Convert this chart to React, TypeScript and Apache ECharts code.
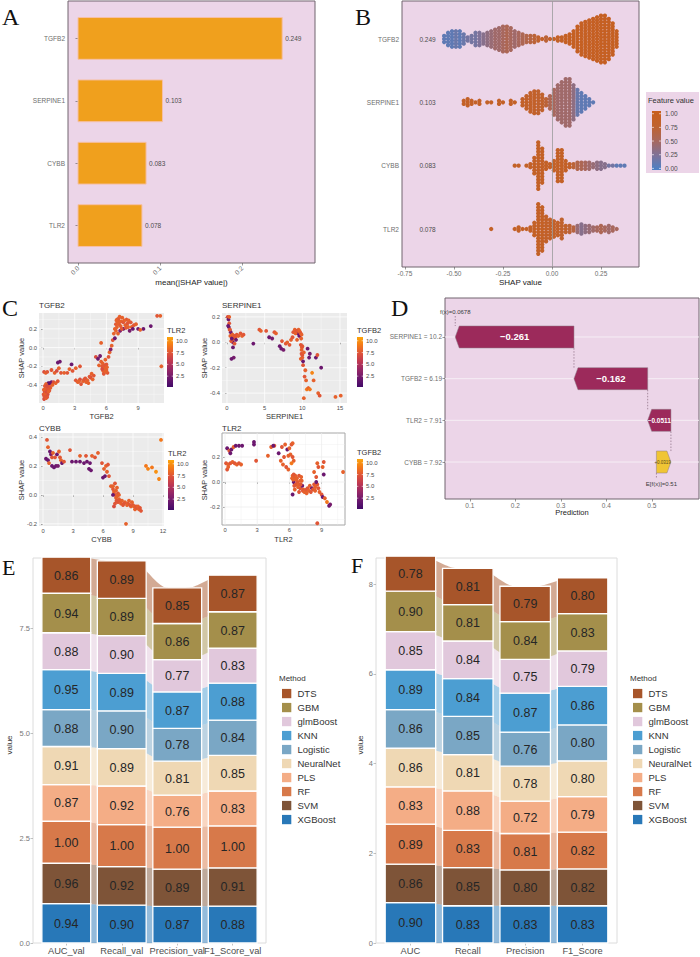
import React, { useEffect, useRef } from "react";
import * as echarts from "echarts";

const FONT = '"Liberation Sans", Arial, Helvetica, sans-serif';
const SERIF = '"Liberation Serif", "Times New Roman", serif';
const PINK = "#ecd5e8";

// ---------- A: mean(|SHAP value|) ----------
const featureRows = ["TLR2", "CYBB", "SERPINE1", "TGFB2"]; // bottom -> top
const meanAbsShap = [0.078, 0.083, 0.103, 0.249];
const meanAbsShapText = ["0.078", "0.083", "0.103", "0.249"];
const ticksA = [0, 0.1, 0.2];

// ---------- B: beeswarm, bins [shap, count, feature value] ----------
const swarmTGFB2 = [
  [-0.55, 3, 0.1], [-0.53, 5, 0.1], [-0.51, 6, 0.1], [-0.49, 6, 0.15], [-0.47, 6, 0.1], [-0.45, 4, 0.15],
  [-0.43, 2, 0.2], [-0.41, 3, 0.2], [-0.39, 5, 0.2], [-0.37, 5, 0.25], [-0.35, 4, 0.3], [-0.33, 5, 0.35],
  [-0.31, 6, 0.4], [-0.29, 7, 0.45], [-0.27, 8, 0.45], [-0.25, 9, 0.5], [-0.23, 9, 0.55], [-0.21, 8, 0.5],
  [-0.19, 6, 0.45], [-0.17, 5, 0.5], [-0.15, 4, 0.55], [-0.13, 3, 0.6], [-0.11, 3, 0.65], [-0.09, 3, 0.7],
  [-0.07, 2, 0.75], [-0.05, 1, 0.8], [-0.03, 2, 0.7], [-0.01, 1, 0.8], [0.01, 1, 0.85], [0.03, 2, 0.85],
  [0.05, 2, 0.85], [0.07, 3, 0.9], [0.09, 4, 0.9], [0.11, 6, 0.9], [0.13, 9, 0.9], [0.15, 11, 0.9],
  [0.17, 12, 0.9], [0.19, 13, 0.9], [0.21, 14, 0.9], [0.23, 15, 0.9], [0.25, 16, 0.9], [0.27, 16, 0.9],
  [0.29, 14, 0.9], [0.31, 11, 0.9], [0.33, 6, 0.9],
];
const swarmSERPINE1 = [
  [-0.45, 2, 0.85], [-0.43, 3, 0.85], [-0.41, 2, 0.85], [-0.39, 1, 0.85], [-0.37, 2, 0.85], [-0.33, 1, 0.85],
  [-0.31, 1, 0.85], [-0.27, 2, 0.85], [-0.25, 1, 0.85], [-0.21, 2, 0.85], [-0.19, 1, 0.85], [-0.15, 3, 0.8],
  [-0.13, 5, 0.8], [-0.11, 7, 0.8], [-0.09, 8, 0.8], [-0.07, 8, 0.75], [-0.05, 6, 0.75], [-0.03, 3, 0.7],
  [-0.01, 5, 0.55], [0.01, 9, 0.5], [0.03, 12, 0.45], [0.05, 14, 0.45], [0.07, 16, 0.45], [0.09, 16, 0.45],
  [0.11, 12, 0.35], [0.13, 9, 0.15], [0.15, 7, 0.1], [0.17, 5, 0.1], [0.19, 3, 0.1], [0.21, 1, 0.1],
];
const swarmCYBB = [
  [-0.19, 1, 0.85], [-0.17, 1, 0.85], [-0.13, 1, 0.85], [-0.11, 2, 0.85], [-0.09, 6, 0.85], [-0.07, 16, 0.85],
  [-0.05, 12, 0.85], [-0.03, 3, 0.85], [-0.01, 2, 0.85], [0.01, 4, 0.85], [0.03, 11, 0.85], [0.05, 11, 0.85],
  [0.07, 4, 0.85], [0.09, 2, 0.8], [0.11, 2, 0.7], [0.13, 3, 0.6], [0.15, 3, 0.55], [0.17, 3, 0.5],
  [0.19, 3, 0.45], [0.21, 2, 0.4], [0.23, 3, 0.35], [0.25, 3, 0.3], [0.27, 2, 0.3], [0.29, 1, 0.2],
  [0.31, 1, 0.2], [0.33, 1, 0.1], [0.35, 1, 0.1], [0.37, 1, 0.1],
];
const swarmTLR2 = [
  [-0.31, 1, 0.85], [-0.19, 1, 0.85], [-0.17, 2, 0.85], [-0.15, 1, 0.85], [-0.13, 1, 0.85], [-0.11, 2, 0.85],
  [-0.09, 5, 0.85], [-0.07, 17, 0.85], [-0.05, 15, 0.85], [-0.03, 9, 0.8], [-0.01, 7, 0.8], [0.01, 6, 0.8],
  [0.03, 5, 0.8], [0.05, 7, 0.75], [0.07, 3, 0.75], [0.09, 3, 0.7], [0.11, 2, 0.65], [0.13, 3, 0.4],
  [0.15, 4, 0.3], [0.17, 3, 0.35], [0.19, 3, 0.4], [0.21, 2, 0.45], [0.23, 2, 0.5], [0.25, 3, 0.55],
  [0.27, 2, 0.5], [0.29, 3, 0.45], [0.31, 2, 0.5], [0.33, 1, 0.5],
];
const swarmRowText = ["0.078", "0.083", "0.103", "0.249"];
const ticksB = [-0.75, -0.5, -0.25, 0, 0.25];
const featureValueTicks = [0, 0.25, 0.5, 0.75, 1];

// ---------- C: dependence plots [x, SHAP, colour variable] ----------
const depTGFB2 = [
  [0.1, -0.55, 7], [0.2, -0.52, 8], [0.3, -0.5, 7.5], [0.4, -0.48, 8], [0.15, -0.47, 6.5], [0.35, -0.45, 7],
  [0.5, -0.44, 8], [0.6, -0.46, 7.5], [0.25, -0.43, 8.5], [0.45, -0.5, 7], [0.55, -0.41, 7.5], [0.7, -0.43, 8],
  [0.05, -0.5, 7.5], [0.3, -0.54, 8], [0.2, -0.46, 7], [0.4, -0.53, 7.5], [0.5, -0.38, 1.5], [0.65, -0.38, 1.8],
  [0.12, -0.52, 7.5], [0.22, -0.49, 8], [0.32, -0.47, 7], [0.42, -0.44, 7.5], [0.52, -0.47, 8], [0.62, -0.42, 7.5],
  [0.08, -0.45, 8], [0.18, -0.41, 7.5], [0.28, -0.39, 8], [0.38, -0.41, 7],
  [0.8, -0.37, 2], [1.0, -0.37, 7], [1.2, -0.38, 8], [1.4, -0.36, 7.5], [0.9, -0.4, 8], [0.1, -0.26, 7],
  [0.25, -0.27, 8], [0.4, -0.26, 7.5], [0.8, -0.24, 7.5], [1.1, -0.27, 8], [1.3, -0.25, 7], [1.5, -0.22, 8],
  [1.4, -0.16, 2], [1.6, -0.15, 2.2], [2.7, -0.18, 2], [1.7, -0.27, 7.5], [2.0, -0.27, 8], [2.3, -0.27, 7.5],
  [2.5, -0.23, 8], [2.8, -0.25, 7.5], [3.1, -0.22, 8], [3.5, -0.2, 7.5], [3.1, -0.35, 7.5], [3.3, -0.37, 8],
  [3.5, -0.34, 7], [3.8, -0.36, 8], [4.0, -0.33, 7.5], [4.2, -0.35, 8], [4.5, -0.32, 7], [4.7, -0.34, 8],
  [4.8, -0.3, 7.5], [4.3, -0.38, 8], [3.6, -0.39, 7.5], [4.6, -0.28, 8], [3.4, -0.36, 8], [3.9, -0.34, 7.5],
  [4.1, -0.37, 8], [4.4, -0.31, 7.5], [5.0, -0.1, 7], [5.2, -0.12, 2],
  [5.4, -0.09, 2.5], [5.5, -0.15, 8], [5.6, -0.2, 7.5], [5.8, -0.22, 8], [6.0, -0.18, 7.5], [5.3, -0.19, 8],
  [5.7, -0.25, 8], [6.1, -0.27, 7.5], [5.9, -0.13, 8], [6.2, -0.1, 7.5], [5.5, 0.05, 8], [5.6, -0.23, 7],
  [6.0, -0.24, 8], [5.65, -0.17, 8], [5.85, -0.19, 7.5], [6.05, -0.21, 8], [5.75, -0.28, 7.5], [5.95, -0.26, 8],
  [6.3, -0.05, 8], [6.4, -0.02, 3], [6.5, 0.02, 8], [6.6, 0.08, 7.5], [6.7, 0.15, 8],
  [6.8, 0.2, 8], [6.9, 0.25, 7.5], [7.0, 0.3, 8], [6.8, 0.1, 2], [6.9, 0.18, 8], [7.0, 0.22, 8],
  [7.2, 0.25, 7.5], [7.4, 0.28, 8], [7.6, 0.2, 2], [7.8, 0.24, 8], [8.0, 0.26, 7.5], [8.2, 0.18, 2.5],
  [8.4, 0.22, 8], [8.6, 0.24, 7.5], [8.8, 0.25, 8], [7.1, 0.15, 8], [7.3, 0.18, 3], [7.5, 0.32, 8],
  [7.9, 0.3, 7.5], [8.5, 0.2, 2], [9.0, 0.2, 2.2], [9.5, 0.2, 2], [9.2, 0.19, 8], [7.2, 0.28, 8],
  [7.6, 0.27, 7.5], [8.1, 0.29, 8], [7.05, 0.26, 8], [7.15, 0.31, 7.5], [7.35, 0.23, 8], [7.45, 0.2, 7.5],
  [7.7, 0.29, 8], [7.85, 0.21, 7.5], [8.05, 0.22, 8], [8.3, 0.27, 7.5], [6.95, 0.29, 8], [7.25, 0.33, 8],
  [10.8, 0.34, 7.5], [11.1, 0.34, 8], [11.2, -0.2, 8], [10.2, 0.23, 2],
];
const depSERPINE1 = [
  [0.1, 0.2, 7], [0.2, 0.18, 2], [0.3, 0.15, 7.5], [0.25, 0.12, 2], [0.4, 0.1, 8], [0.5, 0.08, 2.5],
  [0.6, 0.05, 7.5], [0.3, 0.2, 8], [0.15, 0.13, 2], [0.7, 0.02, 7.5], [0.8, 0.0, 2], [0.9, 0.03, 8],
  [1.0, -0.01, 7.5], [1.1, 0.04, 8], [1.2, 0.02, 2], [1.3, 0.06, 7.5], [1.5, 0.05, 8], [0.8, -0.04, 2],
  [0.35, 0.1, 7.5], [0.45, 0.05, 8], [0.55, 0.01, 7.5], [0.65, 0.03, 2], [0.75, 0.06, 8], [1.0, 0.05, 7.5],
  [0.9, -0.12, 2.5], [0.6, -0.13, 2], [1.8, 0.07, 7.5], [2.0, 0.05, 8], [2.2, 0.06, 7.5], [3.5, -0.01, 2],
  [4.3, 0.1, 7.5], [4.5, 0.09, 8], [5.2, 0.09, 7.5], [5.6, 0.04, 2], [6.0, 0.03, 2.5], [6.3, 0.08, 7.5],
  [6.5, 0.07, 8], [7.0, -0.03, 2], [7.2, -0.05, 2], [7.5, -0.06, 2.5], [7.8, -0.01, 7.5], [8.0, 0.0, 8],
  [7.3, 0.01, 7.5], [8.3, -0.02, 7.5], [8.5, 0.02, 8], [8.7, 0.04, 7.5], [8.8, 0.08, 7.5], [9.0, 0.1, 8],
  [9.2, 0.09, 7.5], [9.4, 0.07, 2], [9.5, 0.1, 8], [9.7, 0.08, 7.5], [9.6, 0.05, 2], [9.3, 0.02, 8],
  [9.1, 0.07, 8], [9.3, 0.09, 7.5], [9.6, 0.09, 8], [9.8, 0.07, 7.5], [9.85, 0.03, 8], [9.9, -0.09, 7.5],
  [10.0, -0.12, 8], [10.1, -0.18, 7.5], [9.95, -0.04, 8],
  [9.8, -0.02, 7.5], [9.9, -0.06, 8], [10.0, -0.1, 7.5], [9.8, -0.13, 8], [10.1, -0.15, 2], [10.2, -0.08, 8],
  [10.4, -0.22, 8], [10.3, -0.27, 7.5], [10.5, -0.3, 8], [10.6, -0.37, 9], [10.8, -0.36, 8], [10.2, -0.44, 8],
  [11.0, -0.37, 9], [11.3, -0.24, 9.5], [11.5, -0.3, 8], [10.7, -0.05, 2], [11.0, -0.09, 2.5], [11.8, -0.12, 2],
  [12.0, -0.1, 7.5], [12.5, -0.2, 2], [12.1, -0.4, 8], [12.3, -0.42, 7.5], [14.4, -0.43, 8], [15.1, -0.42, 8],
  [10.9, -0.12, 2], [9.9, 0.06, 8], [10.0, -0.03, 7.5],
];
const depCYBB = [
  [0.4, 0.38, 7.5], [0.5, 0.33, 8], [0.7, 0.3, 2], [0.8, 0.28, 2.5], [0.9, 0.26, 7.5], [0.3, 0.25, 2],
  [0.5, 0.24, 2], [1.0, 0.29, 8], [1.2, 0.26, 7.5], [1.4, 0.28, 2], [1.6, 0.3, 8], [1.7, 0.26, 7.5],
  [1.8, 0.24, 8], [1.9, 0.22, 2], [2.1, 0.23, 7.5], [0.9, 0.2, 2], [1.1, 0.19, 2], [1.3, 0.2, 2],
  [1.5, 0.2, 2.5], [0.6, 0.22, 8], [2.9, 0.23, 2], [3.3, 0.23, 2], [3.7, 0.23, 2], [4.1, 0.22, 2],
  [4.4, 0.23, 2], [4.7, 0.22, 2], [2.7, 0.31, 7.5], [3.7, 0.27, 8], [4.3, 0.27, 7.5], [4.9, 0.27, 8],
  [5.2, 0.26, 7.5], [5.5, 0.29, 8], [4.6, 0.18, 2], [4.8, 0.17, 2], [5.9, 0.22, 7.5], [6.1, 0.18, 8],
  [6.3, 0.2, 8], [6.5, 0.21, 7.5], [6.0, 0.12, 2], [6.2, 0.13, 2], [6.6, 0.13, 7.5], [6.4, 0.16, 8],
  [6.8, 0.06, 8], [7.0, 0.04, 7.5], [7.1, 0.02, 8], [7.2, 0.0, 7.5], [7.3, -0.02, 8], [7.0, 0.0, 2],
  [7.4, 0.05, 8], [7.5, -0.05, 7.5], [7.6, -0.03, 8], [7.2, -0.06, 7.5], [7.1, -0.08, 7], [7.8, -0.06, 8],
  [8.0, -0.07, 7.5], [8.2, -0.05, 8], [8.5, -0.06, 7.5], [8.8, -0.08, 8], [9.0, -0.07, 7.5], [9.2, -0.1, 8],
  [9.4, -0.09, 7.5], [9.6, -0.1, 8], [9.8, -0.11, 7.5], [8.3, -0.2, 8], [10.3, 0.2, 9], [10.5, 0.18, 9.5],
  [7.3, 0.03, 8], [7.5, 0.01, 7.5], [7.6, 0.0, 8], [7.7, -0.04, 7.5], [7.9, -0.04, 8], [8.1, -0.06, 7.5],
  [8.4, -0.07, 8], [8.7, -0.07, 7.5], [9.1, -0.08, 8], [9.3, -0.08, 7.5], [9.5, -0.08, 8], [9.7, -0.09, 7.5],
  [8.9, -0.05, 8], [7.35, -0.04, 7.5], [7.0, 0.06, 8], [7.2, 0.08, 7.5],
  [10.9, 0.19, 9], [11.3, 0.16, 10], [11.6, 0.11, 9.5], [11.8, 0.38, 9], [7.4, -0.01, 8], [8.6, -0.04, 8],
];
const depTLR2 = [
  [0.1, 0.15, 7.5], [0.3, 0.14, 8], [0.5, 0.15, 7.5], [0.7, 0.16, 8], [0.9, 0.15, 7.5], [1.1, 0.14, 8],
  [1.3, 0.15, 7.5], [1.5, 0.14, 8], [0.2, 0.1, 7.5], [0.3, 0.12, 8], [0.2, 0.27, 2], [0.4, 0.25, 7.5],
  [0.5, 0.23, 2], [0.6, 0.26, 2], [0.8, 0.28, 8], [1.0, 0.29, 2], [1.3, 0.29, 2], [1.6, 0.29, 2],
  [2.7, 0.32, 2], [2.7, 0.3, 2], [2.9, 0.17, 7.5], [4.0, 0.21, 8], [4.3, 0.28, 8], [4.6, 0.29, 7.5],
  [4.5, 0.29, 2], [5.0, 0.23, 2], [5.3, 0.28, 7.5], [5.4, 0.14, 8], [5.6, 0.3, 8], [5.8, 0.26, 2],
  [5.9, 0.21, 8], [5.5, 0.2, 7.5], [5.2, 0.17, 8], [5.7, 0.12, 7.5], [5.9, 0.1, 8], [6.0, 0.27, 8],
  [6.2, 0.3, 7.5], [6.1, 0.22, 8], [6.3, 0.2, 7.5], [6.4, 0.17, 8], [6.2, 0.15, 9], [6.3, 0.31, 8],
  [6.3, 0.05, 8], [6.5, 0.04, 7.5], [6.7, 0.03, 8], [6.9, 0.05, 7.5], [7.1, 0.04, 8], [6.4, 0.0, 2],
  [6.6, -0.02, 7.5], [6.8, -0.04, 8], [7.0, -0.05, 7.5], [7.2, -0.03, 2], [6.5, -0.06, 8], [6.3, -0.1, 2],
  [6.9, -0.08, 7.5], [7.3, -0.06, 8], [7.5, -0.07, 8], [7.7, -0.05, 7.5], [7.9, -0.03, 8], [8.1, -0.05, 2],
  [6.35, 0.02, 8], [6.45, -0.03, 7.5], [6.55, 0.05, 8], [6.75, 0.0, 7.5], [6.85, -0.02, 8], [7.05, -0.02, 7.5],
  [7.15, 0.01, 8], [7.25, -0.07, 7.5], [7.4, -0.08, 8], [7.6, -0.06, 7.5], [7.8, -0.07, 8], [8.2, -0.06, 7.5],
  [8.4, -0.07, 8], [8.6, -0.02, 7.5], [6.25, 0.03, 8], [6.4, 0.06, 7.5],
  [8.3, -0.02, 7.5], [8.4, -0.04, 8], [8.0, -0.08, 7.5], [7.6, -0.09, 8], [8.5, 0.0, 2], [8.7, -0.05, 7.5],
  [8.8, -0.08, 8], [9.0, -0.1, 7.5], [9.1, -0.12, 2], [9.3, -0.13, 8], [9.5, -0.16, 9], [9.7, -0.19, 2],
  [9.8, -0.18, 2.5], [8.5, 0.04, 7.5], [8.3, 0.08, 8], [8.6, 0.15, 8], [8.7, 0.12, 7.5], [9.1, 0.12, 8],
  [9.2, 0.06, 2], [9.2, 0.16, 7.5], [11.0, 0.08, 8], [8.6, -0.33, 7.5], [6.6, 0.02, 8], [7.0, 0.01, 8],
];
const ticksC1x = [0, 3, 6, 9];
const ticksC1y = [-0.4, -0.2, 0, 0.2];
const ticksC2x = [0, 5, 10, 15];
const ticksC2y = [-0.4, -0.2, 0, 0.2];
const ticksC3x = [0, 3, 6, 9, 12];
const ticksC3y = [-0.2, 0, 0.2, 0.4];
const ticksC4x = [0, 3, 6, 9];
const ticksC4y = [-0.2, 0, 0.2];
const colorbarTicks = [2.5, 5, 7.5, 10];

// ---------- D: waterfall ----------
const wfRows = ["CYBB = 7.92", "TLR2 = 7.91", "TGFB2 = 6.19", "SERPINE1 = 10.2"]; // bottom -> top
const wfContrib = [0.0319, -0.0511, -0.162, -0.261];
const wfText = ["+0.0319", "\u22120.0511", "\u22120.162", "\u22120.261"];
const wfBase = 0.51;
const wfFx = 0.0678;
const ticksD = [0.1, 0.2, 0.3, 0.4, 0.5];

// ---------- E / F: alluvial ----------
const stackOrder = ["XGBoost", "SVM", "RF", "PLS", "NeuralNet", "Logistic", "KNN", "glmBoost", "GBM", "DTS"];
const stackColors = ["#2878b8", "#7e5438", "#d7794a", "#f4ad86", "#efd8b4", "#7aa7c5", "#4c9ed2", "#e1c8dc", "#a48f4b", "#a7552a"];
const metricsE = ["AUC_val", "Recall_val", "Precision_val", "F1_Score_val"];
const E_AUC = [0.94, 0.96, 1.0, 0.87, 0.91, 0.88, 0.95, 0.88, 0.94, 0.86];
const E_Recall = [0.9, 0.92, 1.0, 0.92, 0.89, 0.9, 0.89, 0.9, 0.89, 0.89];
const E_Precision = [0.87, 0.89, 1.0, 0.76, 0.81, 0.78, 0.87, 0.77, 0.86, 0.85];
const E_F1 = [0.88, 0.91, 1.0, 0.83, 0.85, 0.84, 0.88, 0.83, 0.87, 0.87];
const metricsF = ["AUC", "Recall", "Precision", "F1_Score"];
const F_AUC = [0.9, 0.86, 0.89, 0.83, 0.86, 0.86, 0.89, 0.85, 0.9, 0.78];
const F_Recall = [0.83, 0.85, 0.83, 0.88, 0.81, 0.85, 0.84, 0.84, 0.81, 0.81];
const F_Precision = [0.83, 0.8, 0.81, 0.72, 0.78, 0.76, 0.87, 0.75, 0.84, 0.79];
const F_F1 = [0.83, 0.82, 0.82, 0.79, 0.8, 0.8, 0.86, 0.79, 0.83, 0.8];
const ticksE = [0, 2.5, 5, 7.5];
const ticksF = [0, 2, 4, 6, 8];

const INFERNO = ["#420a68", "#6a176e", "#932667", "#bc3754", "#dd513a", "#f37819", "#fca50a"];
const FEATCOL = ["#4a80c6", "#7f7298", "#a8685e", "#c0622e", "#c85f1c"];

// layout of the E panel (for its category labels)
const E_LEFT = 33, E_WIDTH = 233, X_MIN = 0.4, X_MAX = 4.6;

function txt(x: number, y: number, text: string, o: any = {}) {
  return {
    type: "text", x, y, rotation: o.rotation || 0, silent: true, z: 100,
    style: {
      text, fill: o.color || "#333", fontSize: o.size || 8, fontFamily: o.family || FONT,
      fontWeight: o.weight || "normal", textAlign: o.align || "left", textVerticalAlign: o.valign || "middle",
    },
  };
}

function gradientRect(x: number, y: number, w: number, h: number, colors: string[]) {
  return {
    type: "rect", silent: true, z: 100, shape: { x, y, width: w, height: h },
    style: {
      fill: new echarts.graphic.LinearGradient(0, 1, 0, 0,
        colors.map((c, i) => ({ offset: i / (colors.length - 1), color: c }))),
    },
  };
}

function colorbar(x: number, y: number, title: string) {
  const w = 6, h = 50, vmin = 0.2, vmax = 10.8;
  const els: any[] = [txt(x, y - 7, title, { size: 7.5, color: "#333" }), gradientRect(x, y, w, h, INFERNO)];
  colorbarTicks.forEach((v) => {
    const py = y + ((vmax - v) / (vmax - vmin)) * h;
    els.push({ type: "line", silent: true, z: 101, shape: { x1: x, y1: py, x2: x + 1.3, y2: py }, style: { stroke: "#fff", lineWidth: 0.6 } });
    els.push({ type: "line", silent: true, z: 101, shape: { x1: x + w - 1.3, y1: py, x2: x + w, y2: py }, style: { stroke: "#fff", lineWidth: 0.6 } });
    els.push(txt(x + w + 3, py, v.toFixed(1), { size: 6, color: "#4d4d4d" }));
  });
  return els;
}

function swarm(bins: number[][], row: number) {
  const step = 0.049;
  const pts: number[][] = [];
  bins.forEach(([x, n, fv]) => {
    for (let k = 0; k < n; k++) pts.push([x, row + (k - (n - 1) / 2) * step, fv]);
  });
  return pts;
}

function minorOf(t: number[]) {
  const s = t[1] - t[0];
  const out = [t[0] - s / 2];
  t.forEach((v) => out.push(v + s / 2));
  return out;
}

function panelLines(gi: number, xt: number[], yt: number[], color: string) {
  const xm = minorOf(xt), ym = minorOf(yt);
  return {
    type: "custom", xAxisIndex: gi, yAxisIndex: gi, silent: true, z: 1, clip: false,
    data: [[xt[0], yt[0]]],
    renderItem: (params: any, api: any) => {
      const cs = params.coordSys;
      const ch: any[] = [];
      const addV = (v: number, w: number) => {
        const px = api.coord([v, yt[0]])[0];
        if (px >= cs.x && px <= cs.x + cs.width)
          ch.push({ type: "line", shape: { x1: px, y1: cs.y, x2: px, y2: cs.y + cs.height }, style: { stroke: color, lineWidth: w } });
      };
      const addH = (v: number, w: number) => {
        const py = api.coord([xt[0], v])[1];
        if (py >= cs.y && py <= cs.y + cs.height)
          ch.push({ type: "line", shape: { x1: cs.x, y1: py, x2: cs.x + cs.width, y2: py }, style: { stroke: color, lineWidth: w } });
      };
      xm.forEach((v) => addV(v, 0.35));
      ym.forEach((v) => addH(v, 0.35));
      xt.forEach((v) => addV(v, 0.75));
      yt.forEach((v) => addH(v, 0.75));
      return { type: "group", children: ch };
    },
  };
}

function alluvial(gi: number, metricVals: number[][], fmtOffset: number) {
  const cum = metricVals.map((vals) => {
    let s = 0;
    return vals.map((v) => { const lo = s; s += v; return [lo, s]; });
  });
  const HW = 0.44, FW = 1 / 6, N = 24;
  const flowData: number[][] = [];
  const strataData: number[][] = [];
  for (let j = 0; j < metricVals.length; j++)
    for (let m = 0; m < stackOrder.length; m++) {
      strataData.push([j, m]);
      if (j < metricVals.length - 1) flowData.push([j, m]);
    }
  const flows = {
    type: "custom", xAxisIndex: gi, yAxisIndex: gi, silent: true, z: 2,
    data: flowData,
    renderItem: (params: any, api: any) => {
      const j = api.value(0), m = api.value(1);
      const [lo0, hi0] = cum[j][m];
      const [lo1, hi1] = cum[j + 1][m];
      const x0 = j + 1 + FW, x1 = j + 2 - FW;
      const top: number[][] = [], bot: number[][] = [];
      for (let k = 0; k <= N; k++) {
        const t = k / N, s = t * t * (3 - 2 * t), x = x0 + (x1 - x0) * t;
        top.push(api.coord([x, hi0 + (hi1 - hi0) * s]));
        bot.push(api.coord([x, lo0 + (lo1 - lo0) * s]));
      }
      return {
        type: "polygon", shape: { points: top.concat(bot.reverse()) },
        style: { fill: stackColors[m], opacity: 0.5 },
      };
    },
  };
  const strata = {
    type: "custom", xAxisIndex: gi, yAxisIndex: gi, silent: true, z: 3,
    data: strataData,
    renderItem: (params: any, api: any) => {
      const j = api.value(0), m = api.value(1);
      const [lo, hi] = cum[j][m];
      const p0 = api.coord([j + 1 - HW, hi]);
      const p1 = api.coord([j + 1 + HW, lo]);
      return {
        type: "group",
        children: [
          { type: "rect", shape: { x: p0[0], y: p0[1], width: p1[0] - p0[0], height: p1[1] - p0[1] },
            style: { fill: stackColors[m], stroke: "#ffffff", lineWidth: 1.3 } },
          { type: "text", x: (p0[0] + p1[0]) / 2, y: (p0[1] + p1[1]) / 2 + fmtOffset,
            style: { text: metricVals[j][m].toFixed(2), fill: "#262626", fontSize: 12.5, fontFamily: FONT,
              textAlign: "center", textVerticalAlign: "middle" } },
        ],
      };
    },
  };
  return [flows, strata];
}

function methodLegend(x: number, y: number) {
  const els: any[] = [txt(x - 3, y, "Method", { size: 8, color: "#333" })];
  const order = stackOrder.map((_, i) => stackOrder.length - 1 - i);
  order.forEach((m, k) => {
    const cy = y + 15.5 + k * 14;
    els.push({ type: "rect", silent: true, z: 100, shape: { x, y: cy - 4.6, width: 9.3, height: 9.3 }, style: { fill: stackColors[m] } });
    els.push(txt(x + 15.5, cy, stackOrder[m], { size: 9.5, color: "#333" }));
  });
  return els;
}

function valueAxis(gi: number, min: number, max: number, ticks: number[], fmt: (v: number) => string, o: any = {}) {
  return {
    type: "value", gridIndex: gi, min, max,
    splitLine: { show: false }, axisLine: { show: false },
    axisTick: { show: true, customValues: ticks, length: o.tickLen ?? 2.5, lineStyle: { color: o.tickColor || "#555", width: 0.6 } },
    axisLabel: {
      show: o.hideLabels ? false : true,
      customValues: ticks, formatter: fmt, fontSize: o.size || 6.5, color: o.color || "#6e6e6e",
      margin: o.margin ?? 3, rotate: o.rotate || 0, fontFamily: FONT,
      showMinLabel: true, showMaxLabel: true, hideOverlap: false,
    },
  };
}

function buildOption() {
  const fmt1 = (v: number) => v.toFixed(1);
  const fmt2 = (v: number) => v.toFixed(2);
  const fmt0 = (v: number) => String(Math.round(v));
  const fmtC = (v: number) => (Math.abs(v) < 1e-9 ? "0.0" : v.toFixed(1));
  const rowName = (names: string[]) => (v: number) => names[Math.round(v) - 1] || "";
  const cOpts = { size: 5.8, color: "#4d4d4d", tickColor: "#333", tickLen: 2, margin: 2 };

  const grids = [
    { left: 68, top: 1, width: 247, height: 262, show: true, backgroundColor: PINK, borderColor: "#70656f", borderWidth: 1 },
    { left: 402, top: 1, width: 237, height: 266, show: true, backgroundColor: PINK, borderColor: "#70656f", borderWidth: 1 },
    { left: 39, top: 313, width: 125, height: 90, show: true, backgroundColor: "#ebebeb", borderWidth: 0 },
    { left: 222, top: 313, width: 125, height: 90, show: true, backgroundColor: "#ebebeb", borderWidth: 0 },
    { left: 39, top: 433, width: 125, height: 93, show: true, backgroundColor: "#ebebeb", borderWidth: 0 },
    { left: 222, top: 433, width: 123, height: 92, show: true, backgroundColor: "#ffffff", borderColor: "#a6a6a6", borderWidth: 1 },
    { left: 445, top: 298, width: 254, height: 201, show: true, backgroundColor: PINK, borderColor: "#70656f", borderWidth: 1 },
    { left: E_LEFT, top: 558, width: E_WIDTH, height: 385, show: true, backgroundColor: "#ffffff", borderColor: "#dcdcdc", borderWidth: 1 },
    { left: 376, top: 558, width: 241, height: 385, show: true, backgroundColor: "#ffffff", borderColor: "#dcdcdc", borderWidth: 1 },
  ];

  const xAxis = [
    valueAxis(0, -0.0122, 0.289, ticksA, fmt1, { rotate: 45, margin: 4 }),
    valueAxis(1, -0.765, 0.444, ticksB, fmt2),
    valueAxis(2, -0.38, 11.45, ticksC1x, fmt0, cOpts),
    valueAxis(3, -0.66, 15.93, ticksC2x, fmt0, cOpts),
    valueAxis(4, -0.4, 12.1, ticksC3x, fmt0, cOpts),
    valueAxis(5, -0.28, 11.18, ticksC4x, fmt0, cOpts),
    valueAxis(6, 0.0453, 0.6036, ticksD, fmt1),
    valueAxis(7, X_MIN, X_MAX, [1, 2, 3, 4], rowName(metricsE), { tickColor: "#999", hideLabels: true }),
    valueAxis(8, X_MIN, X_MAX, [1, 2, 3, 4], rowName(metricsF), { size: 9.3, color: "#4d4d4d", tickColor: "#999" }),
  ];
  const yAxis = [
    valueAxis(0, 0.4, 4.6, [1, 2, 3, 4], rowName(featureRows)),
    valueAxis(1, 0.4, 4.6, [1, 2, 3, 4], rowName(featureRows)),
    valueAxis(2, -0.593, 0.37, ticksC1y, fmtC, cOpts),
    valueAxis(3, -0.478, 0.231, ticksC2y, fmtC, cOpts),
    valueAxis(4, -0.215, 0.428, ticksC3y, fmtC, cOpts),
    valueAxis(5, -0.344, 0.392, ticksC4y, fmtC, cOpts),
    valueAxis(6, 0.113, 4.935, [1, 2, 3, 4], rowName(wfRows)),
    valueAxis(7, 0, 9.17, ticksE, fmt1, { size: 7.5, color: "#777", tickColor: "#999" }),
    valueAxis(8, 0, 8.58, ticksF, fmt0, { size: 7.5, color: "#777", tickColor: "#999" }),
  ];

  const series: any[] = [];
  // 0: A bars
  series.push({
    type: "custom", xAxisIndex: 0, yAxisIndex: 0, silent: true, z: 3,
    data: meanAbsShap.map((v, i) => [v, i + 1]),
    renderItem: (params: any, api: any) => {
      const v = api.value(0), r = api.value(1);
      const p0 = api.coord([0, r + 0.335]);
      const p1 = api.coord([v, r - 0.335]);
      return {
        type: "group",
        children: [
          { type: "rect", shape: { x: p0[0], y: p0[1], width: p1[0] - p0[0], height: p1[1] - p0[1] },
            style: { fill: "#f0a01d", stroke: "#f6c0a6", lineWidth: 1 } },
          { type: "text", x: p1[0] + 3, y: (p0[1] + p1[1]) / 2,
            style: { text: meanAbsShapText[params.dataIndex], fill: "#4d4d4d", fontSize: 6.5, fontFamily: FONT,
              textAlign: "left", textVerticalAlign: "middle" } },
        ],
      };
    },
  });
  // 1: B row texts
  series.push({
    type: "custom", xAxisIndex: 1, yAxisIndex: 1, silent: true, z: 3,
    data: swarmRowText.map((_, i) => [-0.676, i + 1]),
    renderItem: (params: any, api: any) => {
      const p = api.coord([api.value(0), api.value(1)]);
      return { type: "text", x: p[0], y: p[1],
        style: { text: swarmRowText[params.dataIndex], fill: "#4d4d4d", fontSize: 6.5, fontFamily: FONT,
          textAlign: "left", textVerticalAlign: "middle" } };
    },
  });
  // 2: B swarm
  const swarmPts = [
    ...swarm(swarmTLR2, 1), ...swarm(swarmCYBB, 2), ...swarm(swarmSERPINE1, 3), ...swarm(swarmTGFB2, 4),
  ];
  series.push({
    type: "scatter", xAxisIndex: 1, yAxisIndex: 1, symbolSize: 4.3, silent: true, z: 4,
    data: swarmPts, itemStyle: { opacity: 1 },
    markLine: {
      silent: true, symbol: "none", label: { show: false },
      lineStyle: { color: "#9a9a9a", width: 0.8, type: "solid" }, data: [{ xAxis: 0 }],
    },
  });
  // 3-6: C panel grid lines
  series.push(panelLines(2, ticksC1x, ticksC1y, "#ffffff"));
  series.push(panelLines(3, ticksC2x, ticksC2y, "#ffffff"));
  series.push(panelLines(4, ticksC3x, ticksC3y, "#ffffff"));
  series.push(panelLines(5, ticksC4x, ticksC4y, "#ececec"));
  // 7-10: C scatter
  [depTGFB2, depSERPINE1, depCYBB, depTLR2].forEach((d, k) => {
    series.push({ type: "scatter", xAxisIndex: 2 + k, yAxisIndex: 2 + k, symbolSize: 3.8, silent: true, z: 4,
      data: d, itemStyle: { opacity: 1 } });
  });
  // 11: D waterfall
  series.push({
    type: "custom", xAxisIndex: 6, yAxisIndex: 6, silent: true, z: 3, clip: false,
    data: [[0.3, 1]],
    renderItem: (params: any, api: any) => {
      const cs = params.coordSys;
      const ch: any[] = [];
      for (let r = 1; r <= 4; r++) {
        const y = api.coord([0.3, r])[1];
        ch.push({ type: "line", shape: { x1: cs.x, y1: y, x2: cs.x + cs.width, y2: y }, style: { stroke: "#f6eef5", lineWidth: 1 } });
      }
      let cur = wfBase;
      const segs = wfContrib.map((c) => { const s = cur; cur += c; return [s, cur]; });
      const H = 11;
      const dash = { stroke: "#8a6a80", lineWidth: 0.7, lineDash: [1.5, 1.5] };
      for (let i = 0; i < 3; i++) {
        const x = api.coord([segs[i][1], 1])[0];
        const yA = api.coord([0.3, i + 1])[1] - H;
        const yB = api.coord([0.3, i + 2])[1] + H;
        ch.push({ type: "line", shape: { x1: x, y1: yA, x2: x, y2: yB }, style: dash });
      }
      const xf = api.coord([wfFx, 1])[0];
      ch.push({ type: "line", shape: { x1: xf, y1: cs.y + 18, x2: xf, y2: api.coord([0.3, 4])[1] - H }, style: dash });
      const xb = api.coord([wfBase, 1])[0];
      const yb = api.coord([0.3, 1])[1] + H;
      ch.push({ type: "line", shape: { x1: xb, y1: yb, x2: xb, y2: yb + 6 }, style: dash });
      segs.forEach(([s, e], i) => {
        const yc = api.coord([0.3, i + 1])[1];
        const xs = api.coord([s, 1])[0], xe = api.coord([e, 1])[0];
        const tip = Math.min(4, Math.abs(xe - xs) * 0.3);
        let pts;
        if (e < s) pts = [[xe + tip, yc - H], [xs, yc - H], [xs, yc + H], [xe + tip, yc + H], [xe, yc]];
        else pts = [[xs, yc - H], [xe - tip, yc - H], [xe, yc], [xe - tip, yc + H], [xs, yc + H]];
        const pos = e >= s;
        ch.push({ type: "polygon", shape: { points: pts },
          style: { fill: pos ? "#f0c534" : "#9c2a5b", stroke: "#8c7a86", lineWidth: 0.5 } });
        const big = Math.abs(xe - xs) > 40;
        ch.push({ type: "text", x: (xs + xe) / 2 + (pos ? -1 : 0), y: yc,
          style: { text: wfText[i], fill: pos ? "#5a4a20" : "#ffffff", fontSize: big ? 9.5 : pos ? 4.5 : 6.5,
            fontWeight: pos ? "normal" : "bold", fontFamily: FONT, textAlign: "center", textVerticalAlign: "middle" } });
      });
      ch.push({ type: "text", x: xf, y: cs.y + 14,
        style: { text: "f(x)=0.0678", fill: "#3a3a3a", fontSize: 6, fontFamily: FONT, textAlign: "center", textVerticalAlign: "middle" } });
      ch.push({ type: "text", x: xb + 5, y: yb + 11,
        style: { text: "E[f(x)]=0.51", fill: "#3a3a3a", fontSize: 6, fontFamily: FONT, textAlign: "center", textVerticalAlign: "middle" } });
      return { type: "group", children: ch };
    },
  });
  // 12-15: E, F alluvial
  series.push(...alluvial(7, [E_AUC, E_Recall, E_Precision, E_F1], 0.5));
  series.push(...alluvial(8, [F_AUC, F_Recall, F_Precision, F_F1], 0.5));

  const visualMap = [
    { type: "continuous", show: false, seriesIndex: 2, dimension: 2, min: 0, max: 1, inRange: { color: FEATCOL } },
    { type: "continuous", show: false, seriesIndex: [7, 8, 9, 10], dimension: 2, min: 0.2, max: 10.8, inRange: { color: INFERNO } },
  ];

  const g: any[] = [];
  // panel letters
  g.push(txt(2, 17, "A", { size: 24, family: SERIF, color: "#111" }));
  g.push(txt(355, 17, "B", { size: 24, family: SERIF, color: "#111" }));
  g.push(txt(2, 307.5, "C", { size: 24, family: SERIF, color: "#111" }));
  g.push(txt(391, 308, "D", { size: 24, family: SERIF, color: "#111" }));
  g.push(txt(2, 567, "E", { size: 22, family: SERIF, color: "#111" }));
  g.push(txt(351, 565.5, "F", { size: 22, family: SERIF, color: "#111" }));
  // axis titles
  g.push(txt(191.5, 282.5, "mean(|SHAP value|)", { size: 8, color: "#222", align: "center" }));
  g.push(txt(520.5, 282.5, "SHAP value", { size: 8, color: "#222", align: "center" }));
  g.push(txt(572, 512, "Prediction", { size: 7.5, color: "#222", align: "center" }));
  // B legend
  g.push({ type: "rect", silent: true, z: 99, shape: { x: 646, y: 92, width: 53, height: 81 }, style: { fill: PINK } });
  g.push(txt(648, 100, "Feature value", { size: 7.5, color: "#333" }));
  g.push(gradientRect(652, 111, 9, 59, FEATCOL));
  featureValueTicks.forEach((v) => {
    const py = 111 + ((1.05 - v) / 1.08) * 59;
    g.push({ type: "line", silent: true, z: 101, shape: { x1: 652, y1: py, x2: 654, y2: py }, style: { stroke: "#fff", lineWidth: 0.6 } });
    g.push({ type: "line", silent: true, z: 101, shape: { x1: 659, y1: py, x2: 661, y2: py }, style: { stroke: "#fff", lineWidth: 0.6 } });
    g.push(txt(665, py, v.toFixed(2), { size: 6.5, color: "#4d4d4d" }));
  });
  // C titles
  const cTitle = { size: 8, color: "#333" };
  g.push(txt(39, 305, "TGFB2", cTitle));
  g.push(txt(222, 305, "SERPINE1", cTitle));
  g.push(txt(39, 428.5, "CYBB", cTitle));
  g.push(txt(222, 428.5, "TLR2", cTitle));
  const cx = { size: 7.5, color: "#333", align: "center" };
  g.push(txt(101.5, 416, "TGFB2", cx));
  g.push(txt(284.5, 416, "SERPINE1", cx));
  g.push(txt(101.5, 539, "CYBB", cx));
  g.push(txt(283.5, 539, "TLR2", cx));
  const yTitle = { size: 7.5, color: "#333", align: "center", rotation: Math.PI / 2 };
  g.push(txt(21, 358, "SHAP value", yTitle));
  g.push(txt(204, 358, "SHAP value", yTitle));
  g.push(txt(21, 480, "SHAP value", yTitle));
  g.push(txt(204, 480, "SHAP value", yTitle));
  g.push(...colorbar(167, 337, "TLR2"));
  g.push(...colorbar(357, 337, "TGFB2"));
  g.push(...colorbar(168, 460, "TLR2"));
  g.push(...colorbar(357, 459, "TGFB2"));
  // E category labels (placed by the E axis scale)
  metricsE.forEach((name, k) => {
    const px = E_LEFT + ((k + 1 - X_MIN) / (X_MAX - X_MIN)) * E_WIDTH;
    g.push(txt(px, 951, name, { size: 9.3, color: "#4d4d4d", align: "center" }));
  });
  // E / F
  g.push(txt(9, 745, "value", { size: 8, color: "#333", align: "center", rotation: Math.PI / 2 }));
  g.push(txt(360, 745, "value", { size: 8, color: "#333", align: "center", rotation: Math.PI / 2 }));
  g.push(...methodLegend(282, 678));
  g.push(...methodLegend(633, 678));

  return {
    animation: false,
    textStyle: { fontFamily: FONT },
    grid: grids,
    xAxis,
    yAxis,
    visualMap,
    series,
    graphic: { elements: g },
  };
}

export default function App() {
  const ref = useRef<HTMLDivElement>(null);
  useEffect(() => {
    if (!ref.current) return;
    const chart = echarts.init(ref.current, undefined, { renderer: "svg" });
    chart.setOption(buildOption() as any);
    return () => chart.dispose();
  }, []);
  return <div ref={ref} style={{ position: "absolute", left: 0, top: 0, width: 700, height: 957, background: "#fff" }} />;
}
